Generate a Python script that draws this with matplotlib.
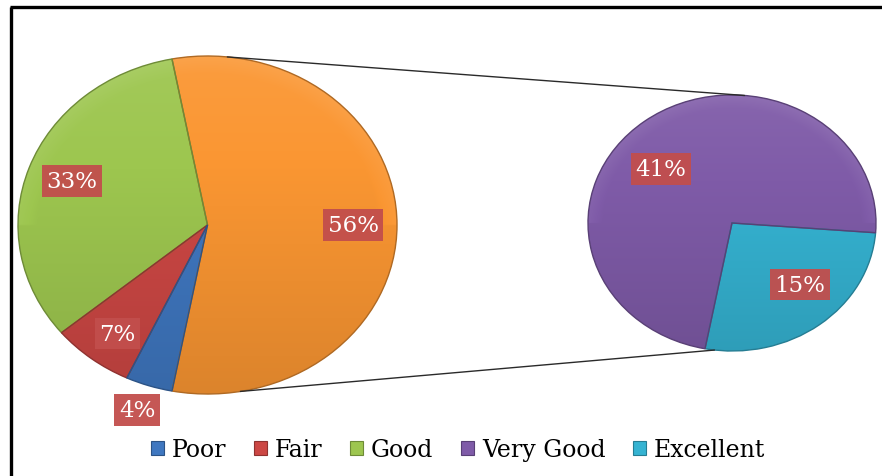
import numpy as np
import matplotlib
matplotlib.use("Agg")
import matplotlib.pyplot as plt
from matplotlib.colors import to_rgb
from matplotlib.patches import ConnectionPatch, Patch
from matplotlib.lines import Line2D

# ---- data -------------------------------------------------------------
categories = ["Poor", "Fair", "Good", "Very Good", "Excellent"]
shares = [4, 7, 33, 41, 15]
colors = ["#3F77C0", "#CC4744", "#9DC64F", "#7F5BA8", "#35B3D2"]
other_color = "#FA9632"

# main pie: combined slice first, then Good, Fair, Poor (counter-clockwise)
main_names = ["Other", "Good", "Fair", "Poor"]
secondary_names = ["Excellent", "Very Good"]

share_of = dict(zip(categories, shares))
color_of = dict(zip(categories, colors))
other_total = sum(share_of[n] for n in secondary_names)

main_vals = [other_total] + [share_of[n] for n in main_names[1:]]
main_cols = [other_color] + [color_of[n] for n in main_names[1:]]
sec_vals = [share_of[n] for n in secondary_names]
sec_cols = [color_of[n] for n in secondary_names]

# label placement (radial distance, angular shift in degrees)
main_label_pos = [(0.77, 0.0), (0.76, -0.2), (0.80, 1.4), (1.156, -0.7)]
sec_label_pos = [(0.674, 7.0), (0.649, 12.0)]

LABEL_BOX = "#C24E4C"
FONT = "DejaVu Serif"


def shade(c, f):
    r, g, b = to_rgb(c)
    if f >= 1:
        k = f - 1
        return (r + (1 - r) * k, g + (1 - g) * k, b + (1 - b) * k)
    return (r * f, g * f, b * f)


def draw_pie(ax, vals, cols, start, label_pos):
    wedges, _ = ax.pie(vals, colors=cols, startangle=start, counterclock=True,
                       radius=1.0, center=(0, 0),
                       wedgeprops=dict(linewidth=1.0))
    yy = np.linspace(-1, 1, 200)[:, None]
    xx = np.linspace(-1, 1, 200)[None, :]
    for w, c in zip(wedges, cols):
        # vertical light-to-dark gradient fill with a slightly brighter rim
        t = (yy + 1) / 2
        rr = np.sqrt(xx ** 2 + yy ** 2)
        f = 0.88 + 0.18 * t + 0.06 * np.clip((rr - 0.9) / 0.1, 0, 1) * (yy > 0)
        base = np.array(to_rgb(c))
        img = np.empty((200, 200, 3))
        for k in range(3):
            ch = base[k]
            img[..., k] = np.where(f >= 1, ch + (1 - ch) * (f - 1), ch * f)
        img = np.clip(img, 0, 1)
        im = ax.imshow(img, extent=(-1, 1, -1, 1), origin="lower",
                       aspect="auto", interpolation="bilinear", zorder=2)
        im.set_clip_path(w)
        w.set_facecolor("none")
        w.set_edgecolor(shade(c, 0.7))
        w.set_zorder(3)
        w.set_clip_on(False)
    for w, v, (r, shift) in zip(wedges, vals, label_pos):
        mid = np.deg2rad((w.theta1 + w.theta2) / 2 + shift)
        ax.text(r * np.cos(mid), r * np.sin(mid), f"{v}%", ha="center",
                va="center", color="white", fontsize=16.5, family=FONT,
                zorder=5,
                bbox=dict(boxstyle="square,pad=0.2", fc=LABEL_BOX,
                          ec="none", alpha=0.95))
    ax.set_xlim(-1, 1)
    ax.set_ylim(-1, 1)
    ax.set_aspect("auto")
    ax.axis("off")
    return wedges


W, H = 882, 477
fig = plt.figure(figsize=(W / 100, H / 100), dpi=100)
fig.patch.set_facecolor("white")

ax1 = fig.add_axes([18 / W, 1 - 395 / H, 379 / W, 338 / H])
ax2 = fig.add_axes([588 / W, 1 - 352 / H, 288 / W, 256 / H])

start = -0.5 * other_total / sum(main_vals) * 360
draw_pie(ax1, main_vals, main_cols, start, main_label_pos)
draw_pie(ax2, sec_vals, sec_cols, start, sec_label_pos)

# connector lines between the combined slice and the secondary pie
for a1, a2 in [(84, 85), (-80, -97)]:
    con = ConnectionPatch(
        xyA=(np.cos(np.deg2rad(a1)), np.sin(np.deg2rad(a1))), coordsA=ax1.transData,
        xyB=(np.cos(np.deg2rad(a2)), np.sin(np.deg2rad(a2))), coordsB=ax2.transData,
        color="#2a2a2a", lw=1.0, zorder=1)
    fig.add_artist(con)

# chart frame (left and top edges)
fig.add_artist(Line2D([10.5 / W, 10.5 / W], [0, 1 - 8 / H],
                      transform=fig.transFigure, color="black", lw=2.4,
                      solid_capstyle="butt"))
fig.add_artist(Line2D([9.5 / W, 1], [1 - 8 / H, 1 - 8 / H],
                      transform=fig.transFigure, color="black", lw=2.4,
                      solid_capstyle="butt"))

handles = [Patch(fc=c, ec=shade(c, 0.7), lw=0.8) for c in colors]
fig.legend(handles, categories, loc="center",
           bbox_to_anchor=(458 / W, 1 - 451 / H), ncol=5, frameon=False,
           prop=dict(family=FONT, size=17), handlelength=0.55,
           handleheight=0.55, handletextpad=0.35, columnspacing=1.15,
           borderpad=0)

fig.savefig("out.png", dpi=100)
